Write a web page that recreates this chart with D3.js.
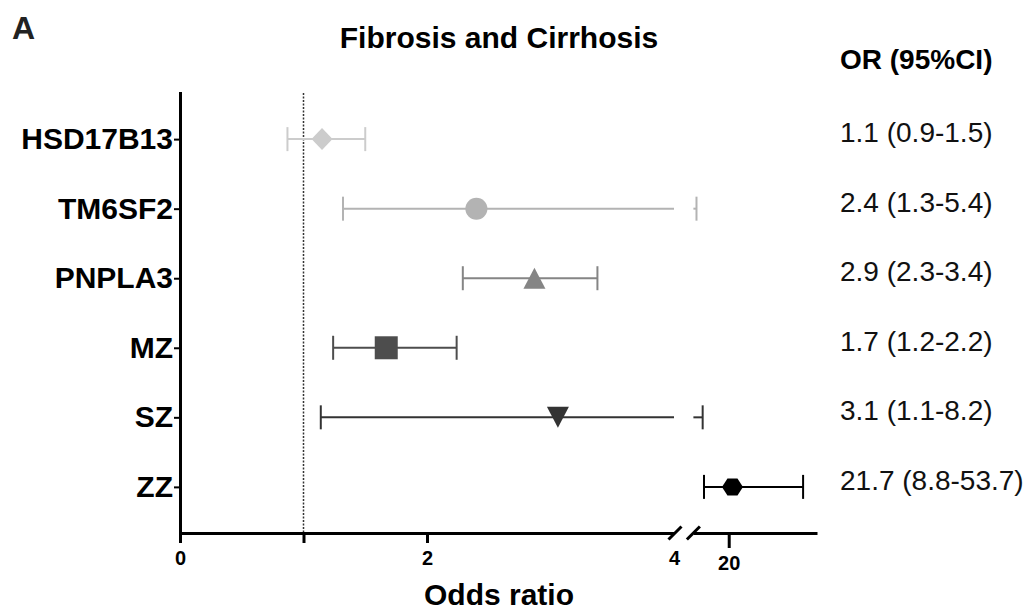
<!DOCTYPE html>
<html>
<head>
<meta charset="utf-8">
<script src="https://cdn.jsdelivr.net/npm/d3@7"></script>
<style>
  html, body { margin: 0; padding: 0; background: #fff; }
  svg { display: block; font-family: "Liberation Sans", Arial, Helvetica, sans-serif; }
</style>
</head>
<body>
<svg id="chart" width="1030" height="614"></svg>
<script>
// ---- data ----
const categories = ["HSD17B13", "TM6SF2", "PNPLA3", "MZ", "SZ", "ZZ"];
const orValues   = [1.15, 2.40, 2.87, 1.67, 3.06, 21.7];
const ciLow      = [0.87, 1.32, 2.29, 1.24, 1.14, 8.8];
const ciHigh     = [1.50, 5.4, 3.38, 2.24, 8.2, 53.7];
const orLabels   = ["1.1 (0.9-1.5)", "2.4 (1.3-5.4)", "2.9 (2.3-3.4)", "1.7 (1.2-2.2)", "3.1 (1.1-8.2)", "21.7 (8.8-53.7)"];
const markerShapes = ["diamond", "circle", "triangleUp", "square", "triangleDown", "hexagon"];
const markerColors = ["#cccccc", "#b3b3b3", "#858585", "#4d4d4d", "#333333", "#000000"];
const xTicksLeft  = [0, 1, 2, 4];
const xTickLabelsLeft = ["0", "", "2", "4"];
const xTicksRight = [20];
const xBreak = 4;

// ---- layout ----
const svg = d3.select("#chart");
const axisY = 533;
const xL = d3.scaleLinear().domain([0, xBreak]).range([180, 674]);
const xR = d3.scaleLinear().domain([xBreak, 60]).range([693.4, 817]);
const y = d3.scalePoint().domain(categories).range([93, 533]).padding(0.663);
const xPos = v => (v <= xBreak ? xL(v) : xR(v));

// reference line at OR = 1
svg.append("line")
  .attr("x1", xL(1)).attr("x2", xL(1))
  .attr("y1", 93).attr("y2", axisY)
  .attr("stroke", "#333").attr("stroke-width", 1.5)
  .attr("stroke-dasharray", "2,1.5");

// ---- axes ----
const gxL = svg.append("g").attr("transform", `translate(0,${axisY})`)
  .call(d3.axisBottom(xL).tickValues(xTicksLeft).tickSize(10).tickSizeOuter(0).tickPadding(8)
    .tickFormat((d, i) => xTickLabelsLeft[i]));
gxL.selectAll(".tick").filter(d => d === xBreak).select("line").remove();

const gxR = svg.append("g").attr("transform", `translate(0,${axisY})`)
  .call(d3.axisBottom(xR).tickValues(xTicksRight).tickSize(15).tickSizeOuter(0).tickPadding(8));

[gxL, gxR].forEach(g => {
  g.select(".domain").attr("stroke", "#000").attr("stroke-width", 3);
  g.selectAll(".tick line").attr("stroke", "#000").attr("stroke-width", 3);
  g.selectAll(".tick text").attr("fill", "#000").attr("font-size", 20).attr("font-weight", "bold")
    .attr("font-family", "Liberation Sans, Arial, sans-serif");
});

const gy = svg.append("g").attr("transform", "translate(180,0)")
  .call(d3.axisLeft(y).tickSize(6).tickSizeOuter(0).tickPadding(1));
gy.select(".domain").attr("stroke", "#000").attr("stroke-width", 3).attr("stroke-linecap", "square");
gy.selectAll(".tick line").attr("stroke", "#000").attr("stroke-width", 2);
gy.selectAll(".tick text").attr("fill", "#000").attr("font-size", 30).attr("font-weight", "bold")
  .attr("font-family", "Liberation Sans, Arial, sans-serif");

// axis break marks
[xL(xBreak) + 1, xR(xBreak)].forEach(cx => {
  svg.append("line")
    .attr("x1", cx - 6.5).attr("y1", axisY + 6.5)
    .attr("x2", cx + 6.5).attr("y2", axisY - 6.5)
    .attr("stroke", "#000").attr("stroke-width", 3);
});

// ---- markers ----
const shapeDefs = {
  diamond: { draw(c) { c.moveTo(0, -11); c.lineTo(10.5, 0); c.lineTo(0, 11); c.lineTo(-10.5, 0); c.closePath(); } },
  circle: { draw(c) { c.moveTo(11, 0); c.arc(0, 0, 11, 0, 2 * Math.PI); } },
  triangleUp: { draw(c) { c.moveTo(0, -10.5); c.lineTo(11, 10.5); c.lineTo(-11, 10.5); c.closePath(); } },
  square: { draw(c) { c.rect(-11.5, -11.5, 23, 23); } },
  triangleDown: { draw(c) { c.moveTo(-11, -10.5); c.lineTo(11, -10.5); c.lineTo(0, 10.5); c.closePath(); } },
  hexagon: { draw(c) { c.moveTo(-10.5, 0); c.lineTo(-5, -8.5); c.lineTo(5, -8.5); c.lineTo(10.5, 0); c.lineTo(5, 8.5); c.lineTo(-5, 8.5); c.closePath(); } }
};

const rows = categories.map((cat, i) => ({
  cat, or: orValues[i], lo: ciLow[i], hi: ciHigh[i],
  label: orLabels[i], shape: markerShapes[i], color: markerColors[i]
}));

function segments(lo, hi) {
  if (hi <= xBreak) return [[xL(lo), xL(hi)]];
  if (lo >= xBreak) return [[xR(lo), xR(hi)]];
  return [[xL(lo), xL(xBreak)], [xR(xBreak), xR(hi)]];
}

const rowG = svg.append("g").selectAll("g").data(rows).join("g")
  .attr("transform", d => `translate(0,${y(d.cat)})`);

rowG.each(function(d) {
  const g = d3.select(this);
  segments(d.lo, d.hi).forEach(s => {
    g.append("line").attr("x1", s[0]).attr("x2", s[1]).attr("y1", 0).attr("y2", 0)
      .attr("stroke", d.color).attr("stroke-width", 2);
  });
  [d.lo, d.hi].forEach(v => {
    g.append("line").attr("x1", xPos(v)).attr("x2", xPos(v)).attr("y1", -12).attr("y2", 12)
      .attr("stroke", d.color).attr("stroke-width", 2);
  });
  g.append("path")
    .attr("transform", `translate(${xPos(d.or)},0)`)
    .attr("d", d3.symbol().type(shapeDefs[d.shape]).size(1)())
    .attr("fill", d.color);
});

// OR labels on the right
svg.append("g").selectAll("text").data(rows).join("text")
  .attr("x", 840).attr("y", d => y(d.cat) + 3)
  .attr("font-size", 28).attr("fill", "#111")
  .text(d => d.label);

// ---- titles ----
svg.append("text").attr("x", 12).attr("y", 39).attr("font-size", 32).attr("font-weight", "bold")
  .attr("fill", "#222").text("A");
svg.append("text").attr("x", 499).attr("y", 48).attr("text-anchor", "middle")
  .attr("font-size", 30).attr("font-weight", "bold").attr("fill", "#000").text("Fibrosis and Cirrhosis");
svg.append("text").attr("x", 840).attr("y", 69)
  .attr("font-size", 28).attr("font-weight", "bold").attr("fill", "#000").text("OR (95%CI)");
svg.append("text").attr("x", 499).attr("y", 605).attr("text-anchor", "middle")
  .attr("font-size", 30).attr("font-weight", "bold").attr("fill", "#000").text("Odds ratio");
</script>
</body>
</html>
